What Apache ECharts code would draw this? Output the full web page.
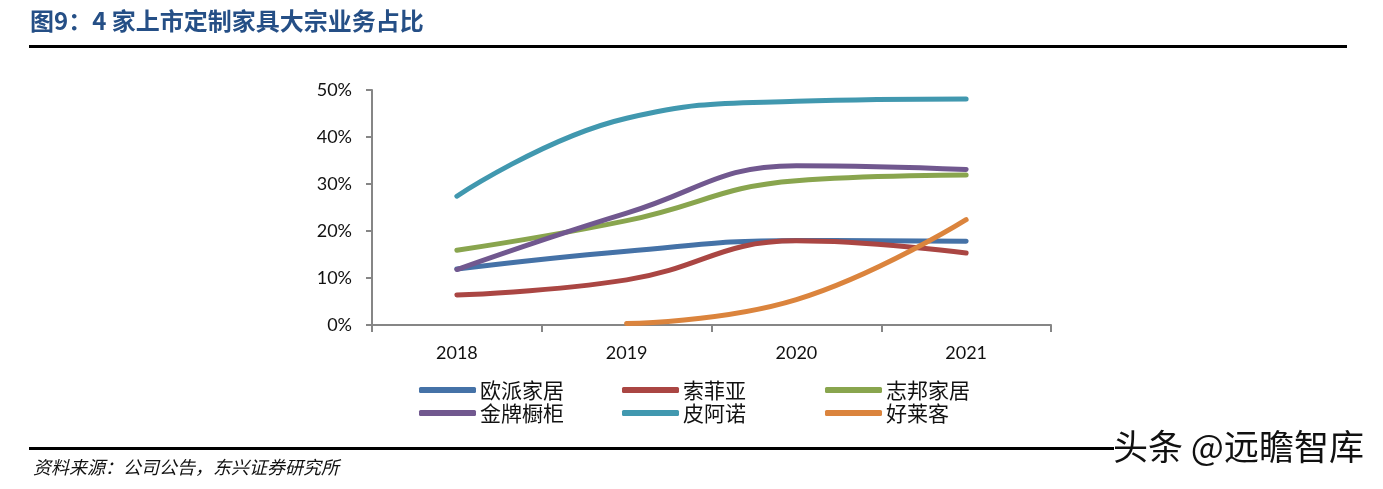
<!DOCTYPE html>
<html>
<head>
<meta charset="utf-8">
<script src="https://cdn.jsdelivr.net/npm/echarts@6/dist/echarts.min.js"></script>
<style>
html,body{margin:0;padding:0;background:#fff;}
#c{width:1383px;height:489px;}
</style>
</head>
<body>
<div id="c"></div>
<script>
const categories = ['2018', '2019', '2020', '2021'];
const seriesNames = ['欧派家居', '索菲亚', '志邦家居', '金牌橱柜', '皮阿诺', '好莱客'];
const oppein = [11.9, 15.7, 18.0, 17.8];
const sofia = [6.4, 9.6, 17.9, 15.3];
const zbom = [15.9, 22.2, 30.7, 31.9];
const goldenHome = [11.8, 23.8, 33.9, 33.1];
const piano = [27.4, 44.0, 47.6, 48.1];
const holike = [null, 0.3, 5.4, 22.4];
const yTicks = [0, 10, 20, 30, 40, 50];
const titleText = '图9：4 家上市定制家具大宗业务占比';
const sourceText = '资料来源：公司公告，东兴证券研究所';
const watermarkText = '头条 @远瞻智库';

const colors = ['#4572A7', '#AA4643', '#89A54E', '#71588F', '#4198AF', '#DB843D'];
const values = [oppein, sofia, zbom, goldenHome, piano, holike];

const legendPos = [
  [419, 379], [622, 379], [825, 379],
  [419, 402], [622, 402], [825, 402]
];

const chart = echarts.init(document.getElementById('c'), null, {renderer: 'canvas'});

const axisColor = '#868686';
const labelFont = 'Lato, "Liberation Sans", sans-serif';

const option = {
  animation: false,
  backgroundColor: '#fff',
  color: colors,
  grid: {left: 372, right: 332, top: 90, bottom: 164, containLabel: false},
  legend: seriesNames.map((n, i) => ({
    data: [n],
    left: legendPos[i][0],
    top: legendPos[i][1],
    padding: 0,
    itemWidth: 57,
    itemHeight: 6,
    itemGap: 0,
    icon: 'roundRect',
    selectedMode: false,
    textStyle: {
      fontSize: 21,
      lineHeight: 22,
      color: '#111',
      padding: [0, 0, 0, -1],
      fontFamily: '"Noto Sans CJK SC", sans-serif'
    }
  })),
  xAxis: {
    type: 'category',
    data: categories,
    boundaryGap: true,
    axisLine: {lineStyle: {color: axisColor, width: 2}},
    axisTick: {show: true, length: 7, lineStyle: {color: axisColor, width: 2}},
    axisLabel: {margin: 19, fontSize: 18, color: '#111', fontFamily: labelFont}
  },
  yAxis: {
    type: 'value',
    min: yTicks[0],
    max: yTicks[yTicks.length - 1],
    interval: 10,
    axisLine: {show: true, lineStyle: {color: axisColor, width: 2}},
    axisTick: {show: true, length: 6, lineStyle: {color: axisColor, width: 2}},
    splitLine: {show: false},
    axisLabel: {margin: 20, fontSize: 18, color: '#111', fontFamily: labelFont, formatter: v => v + '%'}
  },
  series: seriesNames.map((n, i) => ({
    name: n,
    type: 'line',
    data: values[i],
    smooth: 0.45,
    symbol: 'none',
    connectNulls: false,
    lineStyle: {width: 5, color: colors[i], cap: 'round', join: 'round'},
    itemStyle: {color: colors[i]}
  })),
  graphic: [
    {type: 'text', left: 30, top: 9, style: {text: titleText, fontSize: 24, fontWeight: 'bold', fill: '#254F86', fontFamily: '"Noto Sans CJK SC", sans-serif'}},
    {type: 'rect', shape: {x: 29, y: 45, width: 1318, height: 3}, style: {fill: '#000'}},
    {type: 'rect', shape: {x: 29, y: 447, width: 1085, height: 3}, style: {fill: '#000'}},
    {type: 'text', left: 33, top: 458, style: {text: sourceText, fontSize: 18, fontStyle: 'italic', fill: '#111', fontFamily: '"Noto Sans CJK SC", sans-serif'}},
    {type: 'text', left: 1113, top: 429, style: {text: watermarkText, fontSize: 35, fill: '#111', fontFamily: '"Noto Sans CJK SC", sans-serif'}}
  ]
};
chart.setOption(option);
</script>
</body>
</html>
